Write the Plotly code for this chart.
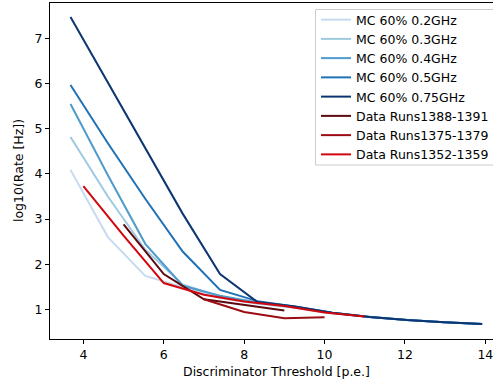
import plotly.graph_objects as go

# MC thresholds (p.e.)
mc_x = [3.68, 4.61, 5.54, 6.47, 7.40, 8.33, 9.26, 10.19, 11.12, 12.05, 12.98, 13.92]
mc_02 = [4.09, 2.60, 1.74, 1.50, 1.25, 1.12, 1.03, 0.91, 0.83, 0.76, 0.71, 0.67]
mc_03 = [4.82, 3.50, 2.32, 1.55, 1.28, 1.13, 1.04, 0.91, 0.83, 0.76, 0.71, 0.67]
mc_04 = [5.55, 3.97, 2.45, 1.52, 1.30, 1.15, 1.05, 0.92, 0.83, 0.76, 0.71, 0.67]
mc_05 = [5.97, 4.68, 3.45, 2.28, 1.43, 1.18, 1.06, 0.92, 0.83, 0.76, 0.71, 0.67]
mc_075 = [7.48, 6.02, 4.56, 3.12, 1.78, 1.16, 1.06, 0.92, 0.83, 0.76, 0.71, 0.67]

# Data runs
d1388_x = [5, 6, 7, 8, 9]
d1388_y = [2.88, 1.78, 1.22, 1.09, 0.97]
d1375_x = [7, 8, 9, 10]
d1375_y = [1.22, 0.94, 0.80, 0.82]
d1352_x = [4, 5, 6, 7, 8, 9, 10, 11]
d1352_y = [3.73, 2.63, 1.58, 1.32, 1.17, 1.07, 0.93, 0.84]

x_ticks = [4, 6, 8, 10, 12, 14]
y_ticks = [1, 2, 3, 4, 5, 6, 7]

series = [
    ("MC 60% 0.2GHz", mc_x, mc_02, "#c6dbef"),
    ("MC 60% 0.3GHz", mc_x, mc_03, "#9ecae1"),
    ("MC 60% 0.4GHz", mc_x, mc_04, "#4f9bcb"),
    ("MC 60% 0.5GHz", mc_x, mc_05, "#2171b5"),
    ("MC 60% 0.75GHz", mc_x, mc_075, "#0d3572"),
    ("Data Runs1388-1391", d1388_x, d1388_y, "#5c0a0f"),
    ("Data Runs1375-1379", d1375_x, d1375_y, "#9b0d12"),
    ("Data Runs1352-1359", d1352_x, d1352_y, "#d0070d"),
]

fig = go.Figure()
for name, xs, ys, col in series:
    fig.add_trace(go.Scatter(x=xs, y=ys, mode="lines", name=name,
                             line=dict(color=col, width=2)))

FS = 12.5
font = dict(family="DejaVu Sans", size=FS, color="black")
L, T, B, W, H = 50, 3, 46, 493, 385
pw = W - L
ph = H - T - B


def px_x(p):
    return (p - L) / pw


def px_y(p):
    return 1 - (p - T) / ph


fig.update_layout(
    width=W, height=H,
    margin=dict(l=L, r=0, t=T, b=B, autoexpand=False),
    paper_bgcolor="white", plot_bgcolor="white",
    font=font,
    showlegend=True,
    legend=dict(x=px_x(316), y=px_y(5), xanchor="left", yanchor="top",
                borderwidth=0, bgcolor="rgba(0,0,0,0)",
                font=font, tracegroupgap=0),
    shapes=[dict(type="rect", xref="paper", yref="paper",
                 x0=px_x(315.5), x1=px_x(498), y0=px_y(165), y1=px_y(9.5),
                 line=dict(color="#cccccc", width=1), fillcolor="white", layer="above")],
    xaxis=dict(range=[3.17, 14.19], tickvals=x_ticks, showgrid=False, zeroline=False,
               showline=True, linecolor="black", linewidth=1, mirror=True,
               ticks="outside", ticklen=4, tickcolor="black", automargin=False,
               ticklabeloverflow="allow"),
    yaxis=dict(range=[0.34, 7.79], tickvals=y_ticks, showgrid=False, zeroline=False,
               showline=True, linecolor="black", linewidth=1, mirror=False,
               ticks="outside", ticklen=4, tickcolor="black", automargin=False),
    annotations=[
        dict(text="Discriminator Threshold [p.e.]", xref="paper", yref="paper",
             x=px_x(276), y=px_y(371), xanchor="center", yanchor="middle",
             showarrow=False, font=font),
        dict(text="log10(Rate [Hz])", xref="paper", yref="paper",
             x=px_x(18), y=0.5, xanchor="center", yanchor="middle",
             textangle=-90, showarrow=False, font=font),
    ],
)
fig.write_html("out.html", config={"displayModeBar": False},
               post_script="document.body.style.margin='0';document.body.style.overflow='hidden';")
